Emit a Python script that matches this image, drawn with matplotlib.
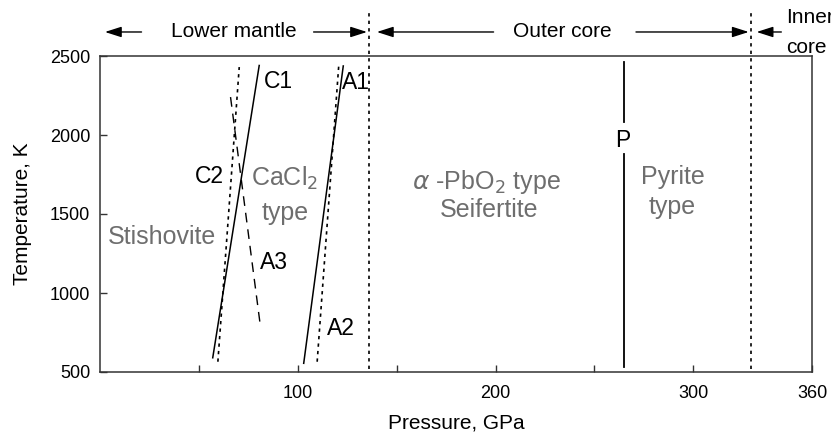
import matplotlib
matplotlib.use("Agg")
import matplotlib.pyplot as plt

plt.rcParams['font.family'] = ['Liberation Sans', 'DejaVu Sans']

# boundaries (GPa)
CMB = 136
ICB = 329

# phase boundary lines: (P start, T start), (P end, T end)
C1_P = [57, 80.5]
C1_T = [590, 2440]
C2_P = [59.6, 70.4]
C2_T = [565, 2430]
A3_P = [66, 81]
A3_T = [2240, 800]
A1_P = [103, 123]
A1_T = [555, 2437]
A2_P = [109.8, 120.7]
A2_T = [565, 2437]
P_LINE = 265
P_SEGMENTS = [(533, 1880), (2084, 2465)]

# line labels (text, P, T)
LINE_LABELS = [("C1", 90.4, 2337), ("A1", 129.4, 2335), ("C2", 55.1, 1736),
               ("A3", 88, 1190), ("A2", 121.9, 778), ("P", 264.3, 1968)]
# phase labels (text, P, T)
PHASE_LABELS = [("Stishovite", 31.3, 1354),
                ("CaCl$_2$", 93.5, 1725),
                ("type", 93.5, 1506),
                ("$\\alpha$ -PbO$_2$ type", 195.2, 1700),
                ("Seifertite", 196.7, 1525),
                ("Pyrite", 289.6, 1736),
                ("type", 289.5, 1546)]

XTICKS = [100, 200, 300, 360]
XMINOR = [50, 150, 250]
YTICKS = [500, 1000, 1500, 2000, 2500]

GRAY = "#6e6e6e"


def main():
    fig = plt.figure(figsize=(8.31, 4.34), dpi=100)
    ax = fig.add_axes([100 / 831, 62 / 434, 712 / 831, 316 / 434])
    ax.set_xlim(0, 360)
    ax.set_ylim(500, 2500)

    ax.plot(C1_P, C1_T, color="black", lw=1.1)
    ax.plot(A1_P, A1_T, color="black", lw=1.1)
    ax.plot(C2_P, C2_T, color="black", lw=1.2, ls=(0, (2, 2.5)))
    ax.plot(A2_P, A2_T, color="black", lw=1.2, ls=(0, (2, 2.5)))
    ax.plot(A3_P, A3_T, color="black", lw=1.0, ls=(0, (7, 5)))
    for lo, hi in P_SEGMENTS:
        ax.plot([P_LINE, P_LINE], [lo, hi], color="black", lw=1.3)

    # boundary dotted lines, extending above the frame
    for xb in (CMB, ICB):
        ax.plot([xb, xb], [520, 2800], color="black", lw=1.2,
                ls=(0, (2, 2.5)), clip_on=False)

    for txt, x, y in LINE_LABELS:
        ax.text(x, y, txt, fontsize=16.5, ha="center", va="center", color="black")
    for txt, x, y in PHASE_LABELS:
        ax.text(x, y, txt, fontsize=18, ha="center", va="center", color=GRAY)

    # region arrows above the plot
    tr = ax.get_xaxis_transform()
    ya = 1.076
    arrow = dict(arrowstyle="-|>,head_length=1.0,head_width=0.32",
                 color="black", lw=1.0, shrinkA=0, shrinkB=0)
    for tail, head in [(21, 2.5), (108, 135), (199, 140), (271, 328), (344.5, 332)]:
        ax.annotate("", xy=(head, ya), xytext=(tail, ya), xycoords=tr,
                    textcoords=tr, arrowprops=arrow, annotation_clip=False)
    ax.text(67.5, ya, "Lower mantle", transform=tr, fontsize=15,
            ha="center", va="center")
    ax.text(234, ya, "Outer core", transform=tr, fontsize=15,
            ha="center", va="center")
    ax.text(347, 1.122, "Inner", transform=tr, fontsize=15, ha="left", va="center")
    ax.text(347, 1.028, "core", transform=tr, fontsize=15, ha="left", va="center")

    ax.set_xticks(XTICKS)
    ax.set_xticks(XMINOR, minor=True)
    ax.set_yticks(YTICKS)
    ax.tick_params(axis="both", which="both", direction="in", length=5,
                   width=1, color="#333333", labelsize=13)
    ax.tick_params(axis="x", pad=9)
    ax.tick_params(axis="y", pad=7)
    for s in ax.spines.values():
        s.set_color("#333333")
        s.set_linewidth(1.1)

    ax.set_xlabel("Pressure, GPa", fontsize=15)
    ax.set_ylabel("Temperature, K", fontsize=15)
    ax.xaxis.set_label_coords(0.5, -0.162)
    ax.xaxis.label.set_va("center")
    ax.yaxis.set_label_coords(-0.109, 0.5)
    ax.yaxis.label.set_va("center")

    fig.savefig("out.png", dpi=100)


if __name__ == "__main__":
    main()
